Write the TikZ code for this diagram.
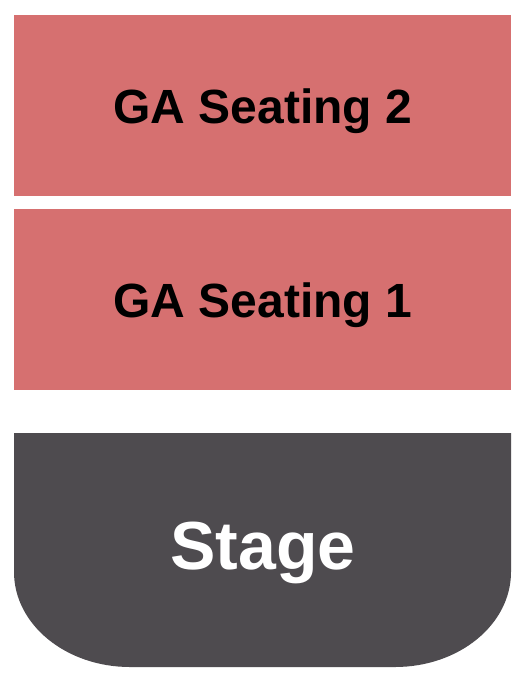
\documentclass[tikz,border=0pt]{standalone}
\usepackage{fontspec}
\setmainfont{Liberation Sans}
\definecolor{seatred}{HTML}{D67070}
\definecolor{stagegray}{HTML}{4E4B4F}
\begin{document}
\begin{tikzpicture}[x=1pt,y=-1pt,
  seat/.style={fill=seatred, draw=none},
  seatlabel/.style={font=\bfseries\fontsize{48}{50}\selectfont, text=black, anchor=base, inner sep=0pt},
  stagelabel/.style={font=\bfseries\fontsize{68}{72}\selectfont, text=white, anchor=base, inner sep=0pt}]
\useasboundingbox (0,0) rectangle (525,680);
\fill[white] (0,0) rectangle (525,680);
\fill[seat] (14,15) rectangle (511,196);
\node[seatlabel] (s2) at (263,123) {GA Seating 2};
\fill[seat] (14,209) rectangle (511,390);
\node[seatlabel] (s1) at (263,317) {GA Seating 1};
\fill[stagegray] (14,433) -- (511,433) -- (511,572)
  arc[start angle=0, end angle=90, x radius=116, y radius=95]
  -- (130,667)
  arc[start angle=90, end angle=180, x radius=116, y radius=95]
  -- cycle;
\node[stagelabel] (st) at (263,569) {Stage};
\end{tikzpicture}
\end{document}
